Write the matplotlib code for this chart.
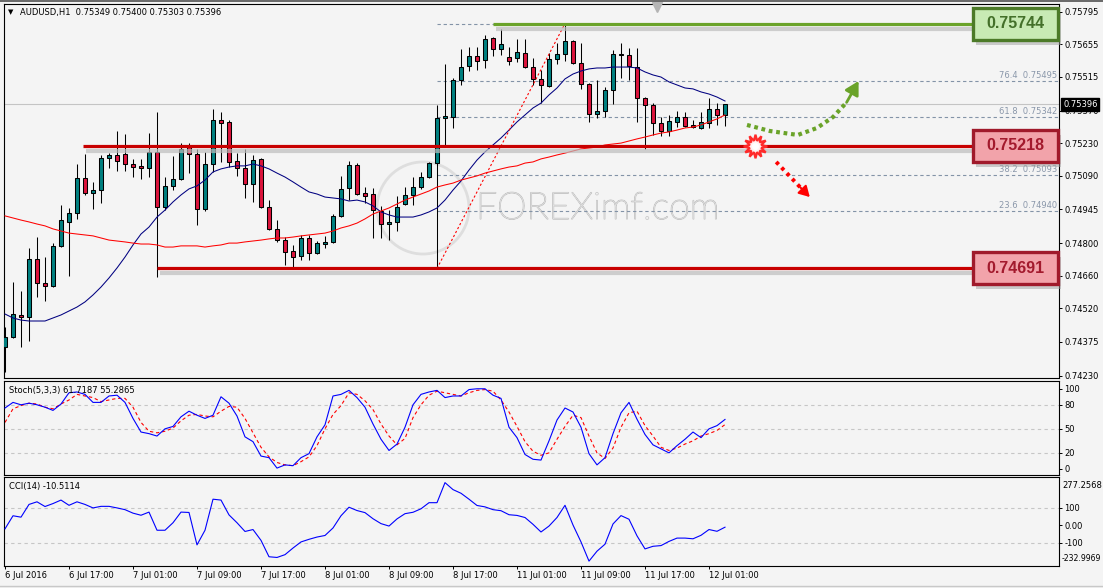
import matplotlib
matplotlib.use("Agg")
import matplotlib.pyplot as plt
import matplotlib.transforms as mtransforms
import matplotlib.patheffects as pe
from matplotlib.patches import Rectangle, Ellipse
from matplotlib.lines import Line2D

# ------------------------------------------------------------------ data
title_text = "AUDUSD,H1  0.75349 0.75400 0.75303 0.75396"

opens = [
    0.74353, 0.74396, 0.74491, 0.74482, 0.74732, 0.74628, 0.74616, 0.74788, 0.74891, 0.74929,
    0.75080, 0.75015, 0.75028, 0.75166, 0.75179, 0.75183, 0.75140, 0.75132, 0.75123, 0.75192,
    0.74955, 0.75046, 0.75076, 0.75213, 0.75183, 0.74947, 0.75140, 0.75329, 0.75321, 0.75153,
    0.75123, 0.75054, 0.75162, 0.74955, 0.74861, 0.74813, 0.74766, 0.74745, 0.74822, 0.74757,
    0.74796, 0.74805, 0.74917, 0.75037, 0.75136, 0.75015, 0.75011, 0.74938, 0.74882, 0.74891,
    0.74968, 0.75007, 0.75041, 0.75084, 0.75144, 0.75338, 0.75342, 0.75501, 0.75562, 0.75605,
    0.75587, 0.75682, 0.75635, 0.75600, 0.75596, 0.75617, 0.75557, 0.75506, 0.75476, 0.75592,
    0.75613, 0.75669, 0.75574, 0.75484, 0.75355, 0.75368, 0.75458, 0.75609, 0.75609, 0.75557,
    0.75424, 0.75394, 0.75316, 0.75282, 0.75321, 0.75342, 0.75308, 0.75295, 0.75316, 0.75377,
    0.75349]
highs = [
    0.74439, 0.74633, 0.74594, 0.74779, 0.74826, 0.74740, 0.74800, 0.74964, 0.74951, 0.75140,
    0.75183, 0.75063, 0.75179, 0.75187, 0.75282, 0.75269, 0.75162, 0.75162, 0.75273, 0.75364,
    0.75084, 0.75175, 0.75230, 0.75230, 0.75205, 0.75192, 0.75377, 0.75364, 0.75329, 0.75187,
    0.75205, 0.75179, 0.75166, 0.74985, 0.74899, 0.74826, 0.74792, 0.74835, 0.74835, 0.74809,
    0.74831, 0.74925, 0.75089, 0.75153, 0.75144, 0.75041, 0.75037, 0.74960, 0.74942, 0.75003,
    0.75041, 0.75084, 0.75106, 0.75149, 0.75394, 0.75570, 0.75510, 0.75635, 0.75643, 0.75643,
    0.75695, 0.75686, 0.75721, 0.75643, 0.75678, 0.75678, 0.75596, 0.75544, 0.75617, 0.75660,
    0.75744, 0.75673, 0.75660, 0.75488, 0.75501, 0.75471, 0.75630, 0.75660, 0.75639, 0.75639,
    0.75428, 0.75402, 0.75342, 0.75351, 0.75368, 0.75364, 0.75329, 0.75364, 0.75424, 0.75402,
    0.75400]
lows = [
    0.74246, 0.74392, 0.74353, 0.74379, 0.74568, 0.74551, 0.74611, 0.74783, 0.74659, 0.74904,
    0.75007, 0.74947, 0.74972, 0.75123, 0.75110, 0.75110, 0.75084, 0.75076, 0.75084, 0.74654,
    0.74942, 0.75028, 0.75071, 0.75101, 0.74878, 0.74938, 0.75106, 0.75149, 0.75127, 0.75089,
    0.74994, 0.74977, 0.74950, 0.74856, 0.74805, 0.74706, 0.74697, 0.74727, 0.74727, 0.74753,
    0.74779, 0.74800, 0.74912, 0.74985, 0.75007, 0.74972, 0.74822, 0.74822, 0.74813, 0.74852,
    0.74964, 0.74964, 0.75033, 0.75080, 0.74691, 0.75222, 0.75295, 0.75480, 0.75540, 0.75544,
    0.75553, 0.75605, 0.75609, 0.75566, 0.75579, 0.75553, 0.75480, 0.75402, 0.75471, 0.75570,
    0.75583, 0.75570, 0.75463, 0.75321, 0.75338, 0.75342, 0.75398, 0.75510, 0.75501, 0.75321,
    0.75205, 0.75265, 0.75261, 0.75261, 0.75299, 0.75299, 0.75295, 0.75291, 0.75295, 0.75308,
    0.75303]
closes = [
    0.74396, 0.74495, 0.74482, 0.74732, 0.74628, 0.74616, 0.74788, 0.74899, 0.74929, 0.75080,
    0.75015, 0.75028, 0.75166, 0.75179, 0.75153, 0.75140, 0.75127, 0.75123, 0.75192, 0.74955,
    0.75046, 0.75076, 0.75205, 0.75183, 0.74947, 0.75140, 0.75329, 0.75316, 0.75149, 0.75123,
    0.75054, 0.75157, 0.74955, 0.74861, 0.74813, 0.74762, 0.74740, 0.74822, 0.74757, 0.74800,
    0.74805, 0.74917, 0.75033, 0.75136, 0.75011, 0.75003, 0.74942, 0.74882, 0.74891, 0.74955,
    0.75007, 0.75041, 0.75084, 0.75144, 0.75338, 0.75347, 0.75501, 0.75557, 0.75605, 0.75583,
    0.75678, 0.75635, 0.75656, 0.75583, 0.75622, 0.75557, 0.75506, 0.75480, 0.75592, 0.75613,
    0.75669, 0.75574, 0.75484, 0.75355, 0.75368, 0.75458, 0.75613, 0.75613, 0.75562, 0.75424,
    0.75394, 0.75316, 0.75282, 0.75325, 0.75342, 0.75304, 0.75299, 0.75321, 0.75377, 0.75351,
    0.75396]

ma_fast = [
    0.74495, 0.74478, 0.74469, 0.74465, 0.74465, 0.74465, 0.74478, 0.74491, 0.74508, 0.74525,
    0.74547, 0.74577, 0.74611, 0.74650, 0.74693, 0.74740, 0.74792, 0.74839, 0.74869, 0.74912,
    0.74942, 0.74977, 0.75007, 0.75033, 0.75046, 0.75071, 0.75106, 0.75119, 0.75127, 0.75132,
    0.75132, 0.75140, 0.75132, 0.75119, 0.75101, 0.75084, 0.75063, 0.75041, 0.75020, 0.75011,
    0.74998, 0.74994, 0.74990, 0.74981, 0.74985, 0.74977, 0.74960, 0.74934, 0.74921, 0.74912,
    0.74912, 0.74912, 0.74921, 0.74934, 0.74951, 0.74985, 0.75028, 0.75067, 0.75114, 0.75157,
    0.75192, 0.75222, 0.75252, 0.75286, 0.75321, 0.75351, 0.75381, 0.75402, 0.75437, 0.75467,
    0.75506, 0.75527, 0.75540, 0.75549, 0.75553, 0.75553, 0.75557, 0.75557, 0.75557, 0.75553,
    0.75536, 0.75523, 0.75514, 0.75493, 0.75480, 0.75467, 0.75463, 0.75450, 0.75441, 0.75428,
    0.75411]
ma_slow = [
    0.74917, 0.74908, 0.74899, 0.74891, 0.74882, 0.74874, 0.74861, 0.74852, 0.74843, 0.74839,
    0.74835, 0.74831, 0.74822, 0.74813, 0.74809, 0.74805, 0.74800, 0.74796, 0.74796, 0.74792,
    0.74783, 0.74783, 0.74788, 0.74788, 0.74788, 0.74783, 0.74788, 0.74792, 0.74800, 0.74800,
    0.74805, 0.74809, 0.74813, 0.74818, 0.74822, 0.74822, 0.74826, 0.74831, 0.74835, 0.74839,
    0.74843, 0.74852, 0.74865, 0.74874, 0.74886, 0.74904, 0.74925, 0.74938, 0.74951, 0.74968,
    0.74985, 0.74998, 0.75011, 0.75024, 0.75041, 0.75050, 0.75058, 0.75071, 0.75080, 0.75089,
    0.75101, 0.75110, 0.75119, 0.75127, 0.75132, 0.75144, 0.75149, 0.75162, 0.75170, 0.75179,
    0.75187, 0.75196, 0.75205, 0.75209, 0.75213, 0.75222, 0.75226, 0.75230, 0.75239, 0.75248,
    0.75256, 0.75265, 0.75273, 0.75278, 0.75286, 0.75295, 0.75299, 0.75308, 0.75321, 0.75334,
    0.75351]

stoch_k = [
    76, 83, 80, 82, 80, 77, 73, 81, 95, 96,
    93, 83, 83, 91, 92, 83, 63, 46, 44, 41,
    50, 53, 65, 72, 67, 63, 67, 90, 82, 66,
    40, 34, 16, 14, 1, 5, 4, 14, 19, 40,
    55, 91, 93, 98, 89, 77, 56, 37, 23, 31,
    52, 80, 93, 96, 98, 89, 91, 91, 99, 100,
    100, 92, 88, 52, 39, 18, 12, 11, 35, 61,
    76, 71, 52, 19, 5, 14, 44, 70, 83, 62,
    43, 30, 25, 20, 29, 37, 46, 39, 50, 54,
    61.7187]
stoch_d = [
    58, 75, 79, 82, 81, 77, 75, 81, 86, 93,
    91, 89, 84, 86, 88, 88, 77, 58, 47, 45,
    47, 51, 60, 67, 68, 66, 65, 72, 78, 77,
    63, 45, 27, 15, 8, 5, 4, 9, 15, 29,
    50, 68, 79, 95, 93, 85, 74, 56, 41, 30,
    38, 64, 80, 92, 97, 95, 93, 91, 95, 98,
    99, 97, 86, 71, 53, 34, 22, 17, 20, 37,
    53, 67, 64, 41, 20, 13, 26, 52, 70, 72,
    54, 41, 27, 23, 26, 31, 35, 41, 44, 48,
    55.2865]
cci = [
    -20, 55, 47, 120, 135, 108, 125, 145, 115, 135,
    120, 100, 109, 109, 100, 90, 70, 58, 76, -28,
    -28, 15, 76, 74, -112, -28, 150, 145, 60, 15,
    -35, -24, -86, -180, -184, -168, -130, -95, -80, -67,
    -58, -15, 55, 104, 85, 73, 38, 10, -4, 37,
    67, 75, 95, 130, 130, 245, 205, 184, 150, 114,
    106, 90, 84, 61, 57, 45, 6, -38, -4, 45,
    115, 2, -95, -205, -148, -108, 8, 56, 35, -60,
    -135, -120, -116, -92, -73, -73, -77, -57, -24, -34,
    -10.5114]

time_labels = ["6 Jul 2016", "6 Jul 17:00", "7 Jul 01:00", "7 Jul 09:00", "7 Jul 17:00",
               "8 Jul 01:00", "8 Jul 09:00", "8 Jul 17:00", "11 Jul 01:00", "11 Jul 09:00",
               "11 Jul 17:00", "12 Jul 01:00"]
time_label_bars = [0, 8, 16, 24, 32, 40, 48, 56, 64, 72, 80, 88]

price_ticks = [0.75795, 0.75655, 0.75515, 0.75370, 0.75230, 0.75090,
               0.74945, 0.74800, 0.74660, 0.74520, 0.74375, 0.74230]
stoch_ticks = [0, 20, 50, 80, 100]
stoch_levels = [20, 50, 80]
cci_ticks = [100, 0, -100]
cci_tick_labels = ["100", "0.00", "-100"]
cci_levels = [100, -100]
cci_max, cci_min = 277.2568, -232.9969

resistance = 0.75744
pivot = 0.75218
support = 0.74691
level_start_bar = {resistance: 61, pivot: 9.7, support: 19}

fib_ratios = [0.0, 23.6, 38.2, 50.0, 61.8, 76.4, 100.0]
fib_prices = [0.74691, 0.74940, 0.75093, 0.75218, 0.75342, 0.75495, 0.75744]
fib_labelled = [23.6, 38.2, 61.8, 76.4]   # the others sit behind the price boxes
fib_start_bar, fib_end_bar = 54, 70

# drawn forecast arrows (bar index, price)
up_path_x = [92.75, 95.6, 99.1, 101.5, 103.5, 105.2]
up_path_y = [0.75308, 0.75282, 0.75265, 0.75295, 0.75342, 0.75405]
up_tip = (106.7, 0.75497)
down_path_x = [96.4, 99.4]
down_path_y = [0.75149, 0.75040]
down_tip = (100.6, 0.74998)
burst = (93.75, 0.75218)

# ------------------------------------------------------------------ style
BG = "#f4f4f4"
BULL = "#008080"
BEAR = "#dc143c"
W, H = 1103, 588

fig = plt.figure(figsize=(W / 100, H / 100), dpi=100, facecolor=BG)


def add_panel(x0, y0, x1, y1):
    a = fig.add_axes([x0 / W, 1 - y1 / H, (x1 - x0) / W, (y1 - y0) / H], facecolor=BG)
    for s in a.spines.values():
        s.set_color("black")
        s.set_linewidth(0.8)
    a.set_xlim(-0.125, 131.75)
    a.yaxis.tick_right()
    a.tick_params(axis="y", direction="out", length=2.5, width=0.7, pad=1.3,
                  labelsize=6, colors="black")
    a.tick_params(axis="x", bottom=False, labelbottom=False)
    return a


ax = add_panel(4, 4, 1059, 378)
ax_st = add_panel(4, 381, 1059, 474.5)
ax_cc = add_panel(4, 477, 1059, 566)

# ------------------------------------------------------------------ main panel
ax.set_ylim(0.742199, 0.758281)
ax.set_yticks(price_ticks)
ax.set_yticklabels([f"{p:.5f}" for p in price_ticks])

xs = list(range(len(opens)))
x_end = ax.get_xlim()[1]

# current price line
ax.axhline(closes[-1], color="#c4c4c4", lw=0.8, zorder=0.6)

# watermark
ax.add_patch(Ellipse((52.25, 0.74951), 11.5, 0.00396, fill=False,
                     ec="#dedede", lw=2.0, zorder=0.7))
ax.text(74.1, 0.74947, "FOREXimf.com", fontsize=27, family="Lato", fontweight="light",
        color="#f0f0f0", ha="center", va="center", zorder=0.8,
        path_effects=[pe.Stroke(linewidth=1.0, foreground="#c6c6c6"), pe.Normal()])

# fibonacci levels
fib_tr = mtransforms.offset_copy(
    mtransforms.blended_transform_factory(ax.transAxes, ax.transData),
    fig=fig, x=-2, y=1, units="dots")
for r, p in zip(fib_ratios, fib_prices):
    ax.plot([fib_start_bar, x_end], [p, p], color="#8393a7", lw=0.8,
            ls=(0, (3, 2.5)), zorder=1.5)
    if r in fib_labelled:
        ax.text(1.0, p, f"{r:.1f}  {p:.5f}", transform=fib_tr, ha="right", va="bottom",
                fontsize=6, color="#8a97aa", zorder=1.6)
ax.plot([fib_start_bar, fib_end_bar], [fib_prices[0], fib_prices[-1]],
        color="#ff0000", lw=0.8, ls=(0, (2, 2)), zorder=4.5)

# candles
ax.vlines(xs, lows, highs, color="black", lw=0.75, zorder=2)
bottoms = [min(o, c) for o, c in zip(opens, closes)]
heights = [max(abs(c - o), 0.00001) for o, c in zip(opens, closes)]
cols = [BULL if c >= o else BEAR for o, c in zip(opens, closes)]
ax.bar(xs, heights, bottom=bottoms, width=0.62, color=cols, edgecolor="black",
       linewidth=0.75, zorder=3)

# moving averages
ax.plot(xs, ma_fast, color="#000080", lw=0.75, zorder=4)
ax.plot(xs, ma_slow, color="#ff0000", lw=0.75, zorder=4)

# support / resistance lines with labels
box_left, box_right = 121.0, 131.6
box_half = 0.00069
shadow_tr = mtransforms.offset_copy(ax.transData, fig=fig, x=3, y=-5, units="dots")
level_styles = {
    resistance: ("#6aa329", "#c8eab4", "#4c7a28", "#44702a"),
    pivot: ("#c80000", "#f2a3aa", "#a01a2b", "#a31a2d"),
    support: ("#c80000", "#f2a3aa", "#a01a2b", "#a31a2d"),
}
for lvl, (lc, fc, ec, tc) in level_styles.items():
    x0 = level_start_bar[lvl]
    ax.plot([x0, box_left], [lvl, lvl], color="#bdbdbd", lw=3.0, alpha=0.7,
            transform=shadow_tr, zorder=5, solid_capstyle="butt")
    ax.plot([x0, box_left], [lvl, lvl], color=lc, lw=2.3, zorder=6,
            solid_capstyle="butt")
    ax.add_patch(Rectangle((box_left, lvl - box_half), box_right - box_left, 2 * box_half,
                           transform=shadow_tr, fc="#a0a0a0", ec="none", alpha=0.5,
                           zorder=6.5, clip_on=False))
    ax.add_patch(Rectangle((box_left, lvl - box_half), box_right - box_left, 2 * box_half,
                           fc=fc, ec=ec, lw=2.4, zorder=7, clip_on=False))
    ax.text((box_left + box_right) / 2, lvl, f"{lvl:.5f}", ha="center", va="center",
            fontsize=11.5, fontweight="bold", family="Liberation Sans", color=tc,
            zorder=8)

# forecast arrows
GREEN = "#6aa329"
ax.plot(up_path_x, up_path_y, color=GREEN, lw=3.0, ls=(0, (0.9, 0.9)), zorder=6)
ax.annotate("", xy=up_tip, xytext=(up_path_x[-1], up_path_y[-1]),
            arrowprops=dict(arrowstyle="-|>,head_length=0.8,head_width=0.45",
                            color=GREEN, lw=2.0, shrinkA=0, shrinkB=0,
                            mutation_scale=10), zorder=6)
ax.plot(down_path_x, down_path_y, color="#ff0000", lw=2.8, ls=(0, (0.9, 1.1)), zorder=6)
ax.annotate("", xy=down_tip, xytext=(down_path_x[-1], down_path_y[-1]),
            arrowprops=dict(arrowstyle="-|>,head_length=0.7,head_width=0.4",
                            color="#ff0000", lw=1.5, shrinkA=0, shrinkB=0,
                            mutation_scale=9), zorder=6)
ax.plot([burst[0]], [burst[1]], marker=(12, 1, 0), ms=17, mfc="#fff2f2",
        mec="#ff2a2a", mew=1.6, zorder=9)
ax.plot([burst[0]], [burst[1]], marker="o", ms=5, mfc="#ffffff", mec="none", zorder=9.5)

# current price tag on the axis
tag_tr = mtransforms.offset_copy(
    mtransforms.blended_transform_factory(ax.transAxes, ax.transData),
    fig=fig, x=4, y=0, units="dots")
ax.text(1.0, closes[-1], f"{closes[-1]:.5f}", transform=tag_tr, ha="left", va="center",
        fontsize=6, color="white", zorder=10, clip_on=False,
        bbox=dict(boxstyle="square,pad=0.2", fc="black", ec="black"))

# chart shift marker
ax.plot([0.619], [0.993], transform=ax.transAxes, marker="v", ms=7,
        color="#b4b4b4", clip_on=False, zorder=10)

# title
fig.text(8 / W, 1 - 12.5 / H, "\u25BC", fontsize=5, va="center", color="black")
fig.text(20 / W, 1 - 12.5 / H, title_text, fontsize=6, va="center", color="black")

# ------------------------------------------------------------------ stochastic
ax_st.set_ylim(-7, 109.7)
ax_st.set_yticks(stoch_ticks)
ax_st.set_yticklabels([str(v) for v in stoch_ticks])
for lv in stoch_levels:
    ax_st.axhline(lv, color="#c6c6c6", lw=0.8, ls=(0, (3, 3)), zorder=1)
ax_st.plot(xs, stoch_d, color="#ff0000", lw=0.8, ls=(0, (3, 2.5)), zorder=2)
ax_st.plot(xs, stoch_k, color="#0000ff", lw=0.8, zorder=3)
ax_st.text(5 / 1055, 0.896, f"Stoch(5,3,3) {stoch_k[-1]:.4f} {stoch_d[-1]:.4f}",
           transform=ax_st.transAxes, fontsize=6, va="center", ha="left")

# ------------------------------------------------------------------ CCI
ax_cc.set_ylim(cci_min, cci_max)
ax_cc.set_yticks(cci_ticks)
ax_cc.set_yticklabels(cci_tick_labels)
for lv in cci_levels:
    ax_cc.axhline(lv, color="#c6c6c6", lw=0.8, ls=(0, (3, 3)), zorder=1)
ax_cc.plot(xs, cci, color="#0000ff", lw=0.8, zorder=3)
ax_cc.text(5 / 1055, 0.891, f"CCI(14) {cci[-1]:.4f}", transform=ax_cc.transAxes,
           fontsize=6, va="center", ha="left")
lab_tr = mtransforms.offset_copy(ax_cc.transAxes, fig=fig, x=3, y=0, units="dots")
ax_cc.text(1.0, 0.91, f"{cci_max:.4f}", transform=lab_tr, fontsize=6, va="center",
           ha="left", clip_on=False)
ax_cc.text(1.0, 0.079, f"{cci_min:.4f}", transform=lab_tr, fontsize=5.6, va="center",
           ha="left", clip_on=False)

ax_cc.set_xticks(time_label_bars)
ax_cc.set_xticklabels(time_labels)
ax_cc.tick_params(axis="x", bottom=True, labelbottom=True, direction="out",
                  length=2.5, width=0.7, pad=1.2, labelsize=6)
for lbl in ax_cc.get_xticklabels():
    lbl.set_ha("left")

# window frame
fig.add_artist(Line2D([0, 1], [1 - 0.5 / H, 1 - 0.5 / H], color="#505050", lw=1.2))
fig.add_artist(Line2D([0, 1], [2 / H, 2 / H], color="#c8c8c8", lw=1.0))

fig.savefig("out.png", dpi=100, facecolor=BG)
